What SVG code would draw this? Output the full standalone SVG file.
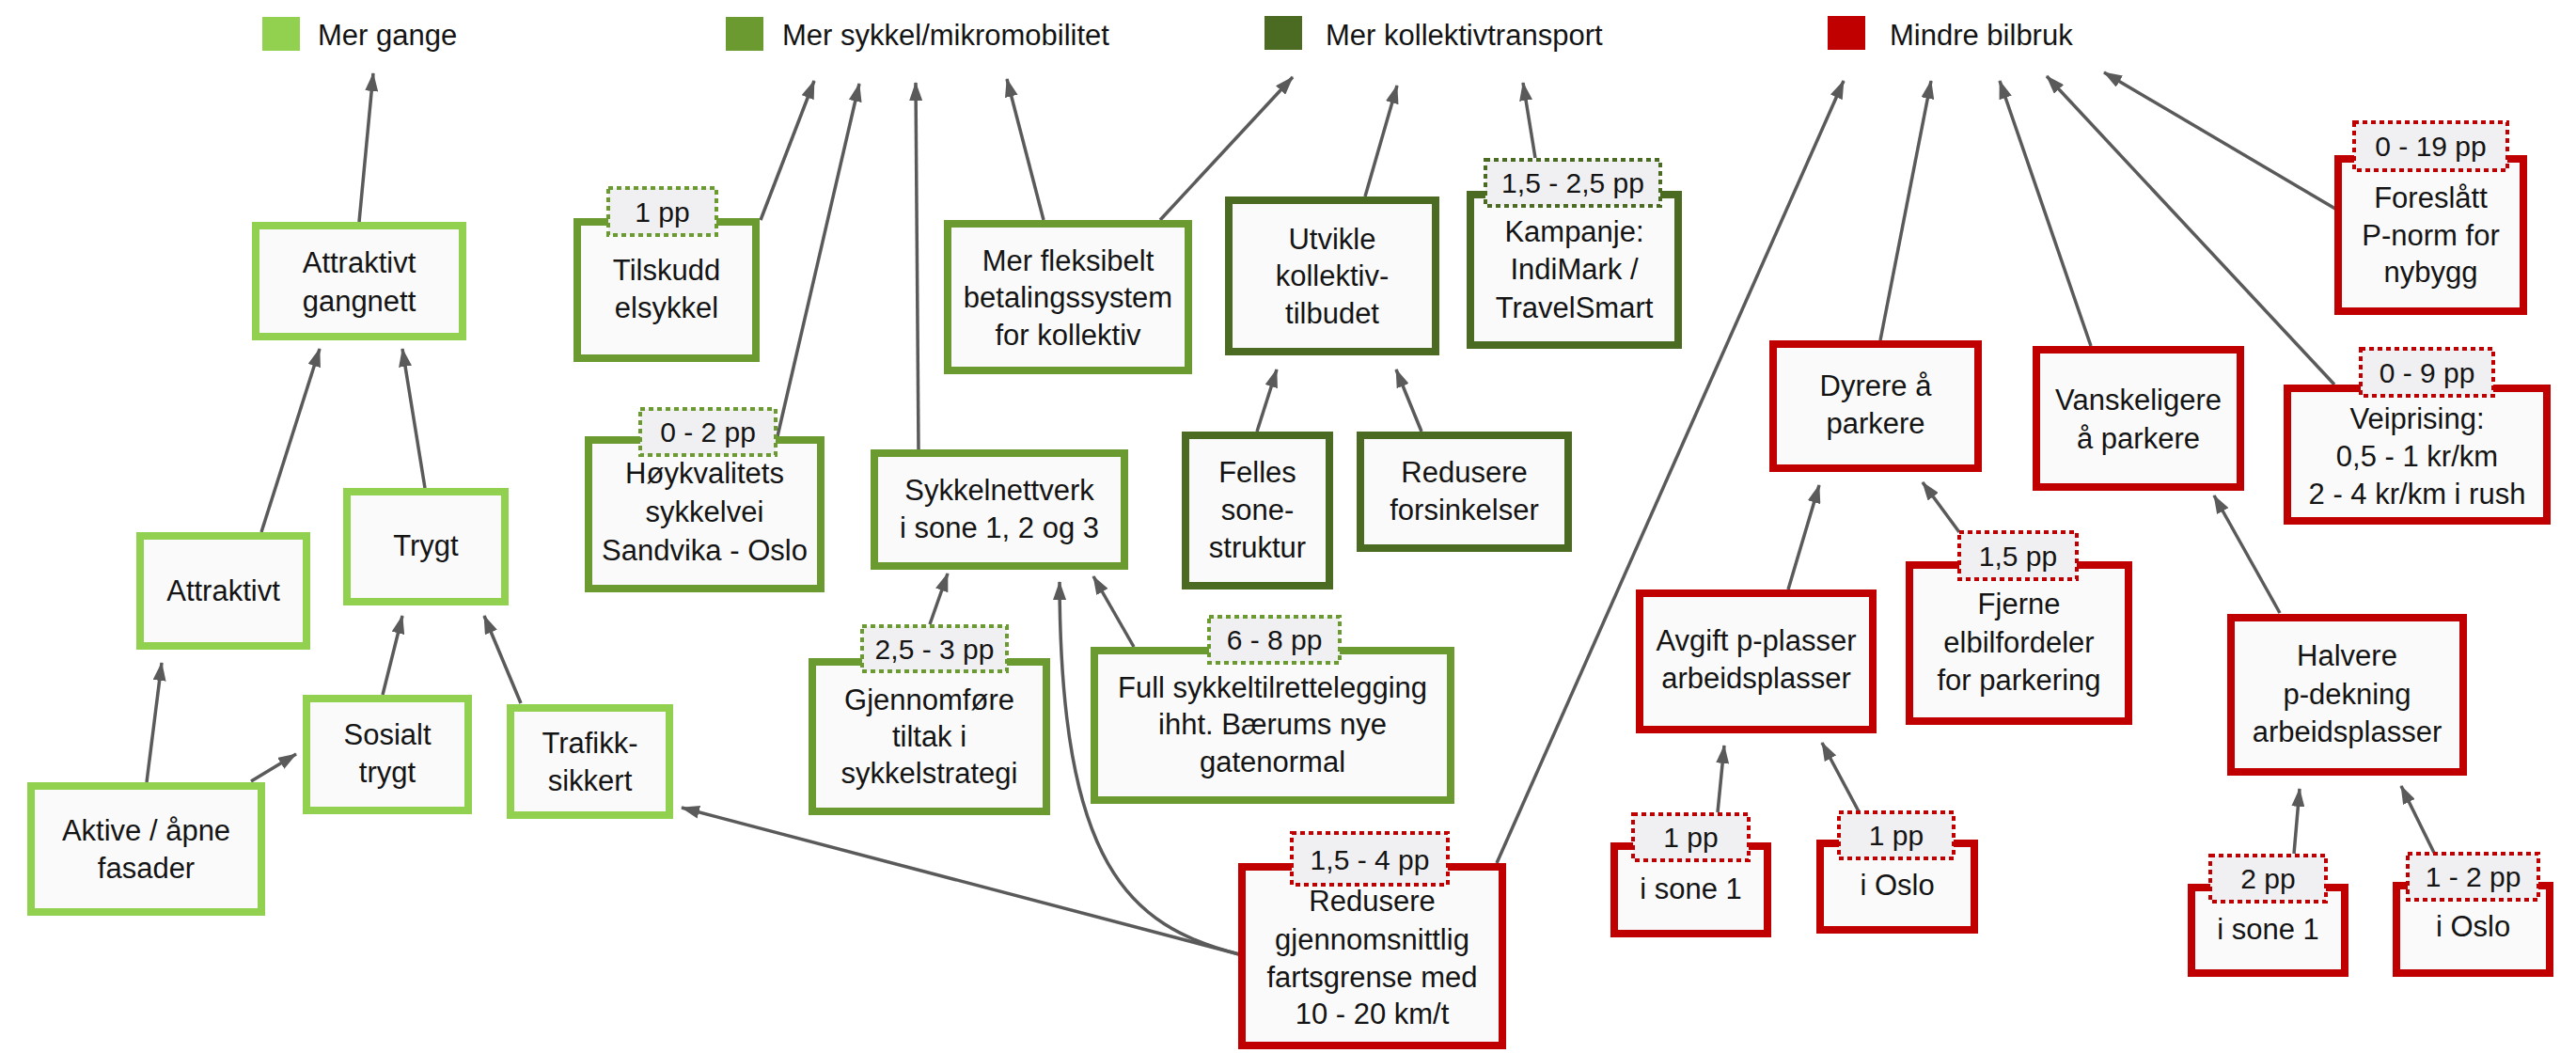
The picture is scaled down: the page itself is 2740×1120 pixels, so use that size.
<svg xmlns="http://www.w3.org/2000/svg" width="2740" height="1120" viewBox="0 0 2740 1120">
<style>
text{font-family:"Liberation Sans",Arial,sans-serif;font-size:31px;fill:#141414;text-anchor:middle}
.lg{text-anchor:start}
.bt{font-size:30px}
.box{fill:#fafafa;stroke-width:8}
.g1{stroke:#92d050}
.g2{stroke:#6b9b30}
.g3{stroke:#4b6b22}
.rd{stroke:#c00000}
.bd{fill:#f0f0f2;stroke-width:4;stroke-dasharray:5 4}
.c{stroke:#5a5a5a;stroke-width:3.5;fill:none;marker-end:url(#ah)}
</style>
<defs>
<marker id="ah" markerUnits="userSpaceOnUse" markerWidth="20" markerHeight="14" refX="19" refY="7" orient="auto">
<path d="M0,0 L20,7 L0,14 z" fill="#5a5a5a"/>
</marker>
</defs>
<rect width="2740" height="1120" fill="#ffffff"/>

<g id="legend">
<rect x="279" y="18" width="40" height="36" fill="#92d050"/>
<text class="lg" x="338" y="48">Mer gange</text>
<rect x="772" y="18" width="40" height="36" fill="#6b9b30"/>
<text class="lg" x="832" y="48">Mer sykkel/mikromobilitet</text>
<rect x="1345" y="17" width="40" height="36" fill="#4b6b22"/>
<text class="lg" x="1410" y="48">Mer kollektivtransport</text>
<rect x="1944" y="17" width="40" height="36" fill="#c00000"/>
<text class="lg" x="2010" y="48">Mindre bilbruk</text>
</g>

<g id="connectors">
<line class="c" x1="382" y1="236" x2="397" y2="78"/>
<line class="c" x1="278" y1="566" x2="340" y2="371"/>
<line class="c" x1="452" y1="519" x2="428" y2="371"/>
<line class="c" x1="156" y1="832" x2="172" y2="705"/>
<line class="c" x1="267" y1="831" x2="315" y2="802"/>
<line class="c" x1="407" y1="739" x2="428" y2="655"/>
<line class="c" x1="554" y1="748" x2="515" y2="655"/>
<line class="c" x1="809" y1="234" x2="866" y2="86"/>
<line class="c" x1="827" y1="464" x2="914" y2="89"/>
<line class="c" x1="977" y1="478" x2="974" y2="88"/>
<line class="c" x1="1110" y1="234" x2="1071" y2="84"/>
<line class="c" x1="1234" y1="234" x2="1375" y2="82"/>
<line class="c" x1="1452" y1="209" x2="1486" y2="91"/>
<line class="c" x1="1633" y1="168" x2="1620" y2="88"/>
<line class="c" x1="1337" y1="459" x2="1358" y2="393"/>
<line class="c" x1="1512" y1="459" x2="1485" y2="393"/>
<line class="c" x1="989" y1="664" x2="1008" y2="610"/>
<line class="c" x1="1206" y1="688" x2="1163" y2="613"/>
<path class="c" d="M1318,1015 C1200,985 1128,920 1127,619"/>
<line class="c" x1="1318" y1="1015" x2="725" y2="859"/>
<line class="c" x1="1592" y1="918" x2="1961" y2="86"/>
<line class="c" x1="2000" y1="362" x2="2054" y2="86"/>
<line class="c" x1="2224" y1="368" x2="2127" y2="86"/>
<line class="c" x1="2483" y1="409" x2="2177" y2="81"/>
<line class="c" x1="2484" y1="222" x2="2238" y2="77"/>
<line class="c" x1="1902" y1="627" x2="1935" y2="516"/>
<line class="c" x1="2084" y1="566" x2="2045" y2="513"/>
<line class="c" x1="2425" y1="652" x2="2355" y2="527"/>
<line class="c" x1="1827" y1="864" x2="1834" y2="793"/>
<line class="c" x1="1977" y1="863" x2="1938" y2="790"/>
<line class="c" x1="2440" y1="908" x2="2446" y2="839"/>
<line class="c" x1="2589" y1="907" x2="2554" y2="836"/>
</g>

<g id="n-attraktivt-gangnett"><rect class="box g1" x="272" y="240" width="220" height="118"/>
<text><tspan x="382" y="290">Attraktivt</tspan><tspan x="382" y="331">gangnett</tspan></text></g>
<g id="n-attraktivt"><rect class="box g1" x="149" y="570" width="177" height="117"/>
<text x="237.5" y="639">Attraktivt</text></g>
<g id="n-trygt"><rect class="box g1" x="369" y="523" width="168" height="117"/>
<text x="453" y="591">Trygt</text></g>
<g id="n-sosialt"><rect class="box g1" x="326" y="743" width="172" height="119"/>
<text><tspan x="412" y="792">Sosialt</tspan><tspan x="412" y="832">trygt</tspan></text></g>
<g id="n-trafikk"><rect class="box g1" x="543" y="753" width="169" height="114"/>
<text><tspan x="627.5" y="801">Trafikk-</tspan><tspan x="627.5" y="841">sikkert</tspan></text></g>
<g id="n-aktive"><rect class="box g1" x="33" y="836" width="245" height="134"/>
<text><tspan x="155.5" y="894">Aktive / åpne</tspan><tspan x="155.5" y="934">fasader</tspan></text></g>

<g id="n-tilskudd"><rect class="box g2" x="614" y="236" width="190" height="145"/>
<rect class="bd g2" x="647" y="200" width="115" height="50"/><text class="bt" x="704.5" y="236">1 pp</text>
<text><tspan x="709" y="298">Tilskudd</tspan><tspan x="709" y="338">elsykkel</tspan></text></g>
<g id="n-hoykvalitets"><rect class="box g2" x="626" y="468" width="247" height="158"/>
<rect class="bd g2" x="681" y="435" width="144" height="49"/><text class="bt" x="753" y="470">0 - 2 pp</text>
<text><tspan x="749.5" y="514">Høykvalitets</tspan><tspan x="749.5" y="555">sykkelvei</tspan><tspan x="749.5" y="596">Sandvika - Oslo</tspan></text></g>
<g id="n-sykkelnettverk"><rect class="box g2" x="930" y="482" width="266" height="120"/>
<text><tspan x="1063" y="532">Sykkelnettverk</tspan><tspan x="1063" y="572">i sone 1, 2 og 3</tspan></text></g>
<g id="n-fleksibelt"><rect class="box g2" x="1008" y="238" width="256" height="156"/>
<text><tspan x="1136" y="288">Mer fleksibelt</tspan><tspan x="1136" y="327">betalingssystem</tspan><tspan x="1136" y="367">for kollektiv</tspan></text></g>
<g id="n-gjennomfore"><rect class="box g2" x="864" y="704" width="249" height="159"/>
<rect class="bd g2" x="917" y="666" width="154" height="48"/><text class="bt" x="994" y="701">2,5 - 3 pp</text>
<text><tspan x="988.5" y="755">Gjennomføre</tspan><tspan x="988.5" y="794">tiltak i</tspan><tspan x="988.5" y="833">sykkelstrategi</tspan></text></g>
<g id="n-full-sykkel"><rect class="box g2" x="1164" y="692" width="379" height="159"/>
<rect class="bd g2" x="1286" y="656" width="139" height="49"/><text class="bt" x="1355.5" y="691">6 - 8 pp</text>
<text><tspan x="1353.5" y="742">Full sykkeltilrettelegging</tspan><tspan x="1353.5" y="781">ihht. Bærums nye</tspan><tspan x="1353.5" y="821">gatenormal</tspan></text></g>

<g id="n-utvikle"><rect class="box g3" x="1307" y="213" width="220" height="161"/>
<text><tspan x="1417" y="265">Utvikle</tspan><tspan x="1417" y="304">kollektiv-</tspan><tspan x="1417" y="344">tilbudet</tspan></text></g>
<g id="n-kampanje"><rect class="box g3" x="1564" y="207" width="221" height="160"/>
<rect class="bd g3" x="1580" y="170" width="186" height="49"/><text class="bt" x="1673" y="205">1,5 - 2,5 pp</text>
<text><tspan x="1674.5" y="257">Kampanje:</tspan><tspan x="1674.5" y="297">IndiMark /</tspan><tspan x="1674.5" y="338">TravelSmart</tspan></text></g>
<g id="n-felles"><rect class="box g3" x="1261" y="463" width="153" height="160"/>
<text><tspan x="1337.5" y="513">Felles</tspan><tspan x="1337.5" y="553">sone-</tspan><tspan x="1337.5" y="593">struktur</tspan></text></g>
<g id="n-forsinkelser"><rect class="box g3" x="1447" y="463" width="221" height="120"/>
<text><tspan x="1557.5" y="513">Redusere</tspan><tspan x="1557.5" y="553">forsinkelser</tspan></text></g>

<g id="n-fartsgrense"><rect class="box rd" x="1321" y="922" width="277" height="190"/>
<rect class="bd rd" x="1374" y="886" width="166" height="55"/><text class="bt" x="1457" y="925">1,5 - 4 pp</text>
<text><tspan x="1459.5" y="969">Redusere</tspan><tspan x="1459.5" y="1010">gjennomsnittlig</tspan><tspan x="1459.5" y="1050">fartsgrense med</tspan><tspan x="1459.5" y="1089">10 - 20 km/t</tspan></text></g>
<g id="n-dyrere"><rect class="box rd" x="1886" y="366" width="218" height="132"/>
<text><tspan x="1995" y="421">Dyrere å</tspan><tspan x="1995" y="461">parkere</tspan></text></g>
<g id="n-vanskeligere"><rect class="box rd" x="2166" y="372" width="217" height="146"/>
<text><tspan x="2274.5" y="436">Vanskeligere</tspan><tspan x="2274.5" y="477">å parkere</tspan></text></g>
<g id="n-pnorm"><rect class="box rd" x="2487" y="169" width="197" height="162"/>
<rect class="bd rd" x="2504" y="130" width="163" height="51"/><text class="bt" x="2585.5" y="166">0 - 19 pp</text>
<text><tspan x="2585.5" y="221">Foreslått</tspan><tspan x="2585.5" y="261">P-norm for</tspan><tspan x="2585.5" y="300">nybygg</tspan></text></g>
<g id="n-veiprising"><rect class="box rd" x="2433" y="413" width="276" height="141"/>
<rect class="bd rd" x="2511" y="371" width="141" height="50"/><text class="bt" x="2581.5" y="407">0 - 9 pp</text>
<text><tspan x="2571" y="456">Veiprising:</tspan><tspan x="2571" y="496">0,5 - 1 kr/km</tspan><tspan x="2571" y="536">2 - 4 kr/km i rush</tspan></text></g>
<g id="n-avgift"><rect class="box rd" x="1744" y="631" width="248" height="145"/>
<text><tspan x="1868" y="692">Avgift p-plasser</tspan><tspan x="1868" y="732">arbeidsplasser</tspan></text></g>
<g id="n-fjerne"><rect class="box rd" x="2031" y="601" width="233" height="166"/>
<rect class="bd rd" x="2084" y="566" width="125" height="50"/><text class="bt" x="2146.5" y="602">1,5 pp</text>
<text><tspan x="2147.5" y="653">Fjerne</tspan><tspan x="2147.5" y="694">elbilfordeler</tspan><tspan x="2147.5" y="734">for parkering</tspan></text></g>
<g id="n-halvere"><rect class="box rd" x="2373" y="657" width="247" height="164"/>
<text><tspan x="2496.5" y="708">Halvere</tspan><tspan x="2496.5" y="749">p-dekning</tspan><tspan x="2496.5" y="789">arbeidsplasser</tspan></text></g>
<g id="n-avgift-sone1"><rect class="box rd" x="1717" y="900" width="163" height="93"/>
<rect class="bd rd" x="1737" y="866" width="123" height="49"/><text class="bt" x="1798.5" y="901">1 pp</text>
<text x="1798.5" y="956">i sone 1</text></g>
<g id="n-avgift-oslo"><rect class="box rd" x="1936" y="897" width="164" height="92"/>
<rect class="bd rd" x="1956" y="864" width="122" height="49"/><text class="bt" x="2017" y="899">1 pp</text>
<text x="2018" y="952">i Oslo</text></g>
<g id="n-halvere-sone1"><rect class="box rd" x="2331" y="944" width="163" height="91"/>
<rect class="bd rd" x="2351" y="910" width="123" height="49"/><text class="bt" x="2412.5" y="945">2 pp</text>
<text x="2412.5" y="999">i sone 1</text></g>
<g id="n-halvere-oslo"><rect class="box rd" x="2549" y="942" width="163" height="93"/>
<rect class="bd rd" x="2561" y="908" width="139" height="49"/><text class="bt" x="2630.5" y="943">1 - 2 pp</text>
<text x="2630.5" y="996">i Oslo</text></g>
</svg>
